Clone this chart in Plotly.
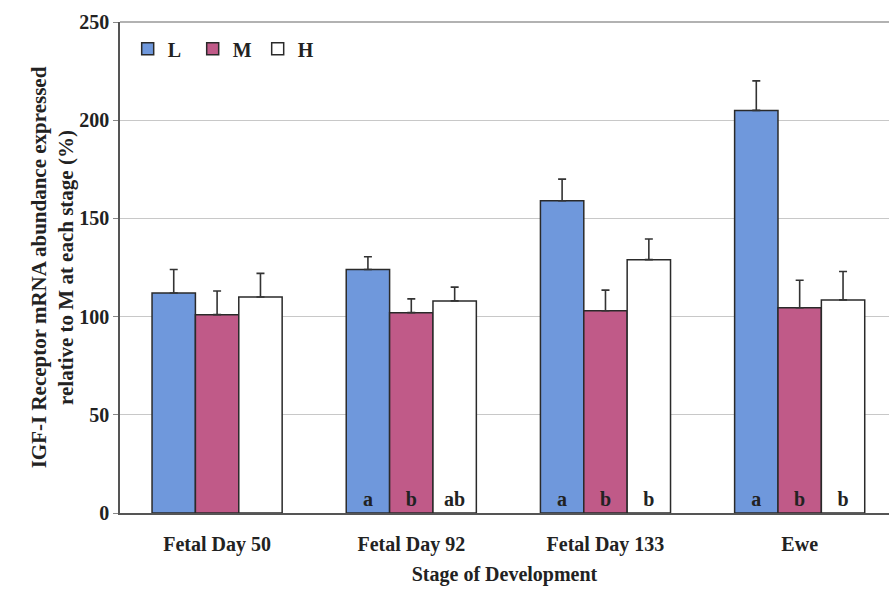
import plotly.graph_objects as go

# Stages and relative IGF-I receptor mRNA abundance (% of M) with SEM
stages = ["Fetal Day 50", "Fetal Day 92", "Fetal Day 133", "Ewe"]
L_vals = [112, 124, 159, 205]
M_vals = [101, 102, 103, 104.5]
H_vals = [110, 108, 129, 108.5]
L_err = [12, 6.5, 11, 15]
M_err = [12, 7, 10.5, 14]
H_err = [12, 7, 10.5, 14.5]

# Significance letters shown at the base of each bar
L_sig = ["", "a", "a", "a"]
M_sig = ["", "b", "b", "b"]
H_sig = ["", "ab", "b", "b"]

FONT = "Liberation Serif"
INK = "#222222"
series = [
    ("L", L_vals, L_err, L_sig, "#6f98dc"),
    ("M", M_vals, M_err, M_sig, "#c05a88"),
    ("H", H_vals, H_err, H_sig, "#ffffff"),
]

fig = go.Figure()
for name, vals, err, sig, color in series:
    fig.add_trace(go.Bar(
        name=f"<b>{name}</b>",
        x=stages,
        y=vals,
        text=[f"<b>{s}</b>" if s else "" for s in sig],
        textposition="inside",
        insidetextanchor="start",
        textangle=0,
        textfont=dict(family=FONT, size=20, color=INK),
        marker=dict(color=color, line=dict(color="#2a2a2a", width=1.5)),
        error_y=dict(type="data", array=err, arrayminus=[0] * len(err),
                     symmetric=False, color="#333333", thickness=1.6, width=4),
    ))

fig.update_layout(
    width=889, height=589,
    margin=dict(l=120, r=0, t=22, b=76),
    paper_bgcolor="white",
    plot_bgcolor="white",
    barmode="group",
    bargap=0.33,
    bargroupgap=0,
    font=dict(family=FONT, color=INK),
    legend=dict(
        orientation="h", x=0.01, y=0.985, xanchor="left", yanchor="top",
        font=dict(family=FONT, size=20, color=INK),
        bgcolor="rgba(0,0,0,0)", itemwidth=30, entrywidth=20,
        traceorder="normal",
    ),
    uniformtext=dict(minsize=10, mode="show"),
)

fig.update_xaxes(
    range=[-0.5, 3.46],
    showline=True, linecolor="#555555", linewidth=1.5,
    showgrid=False, ticks="",
    ticklabelstandoff=12,
    tickfont=dict(family=FONT, size=20, color=INK),
    title=dict(text="<b>Stage of Development</b>",
               font=dict(family=FONT, size=20, color=INK), standoff=12),
    tickprefix="<b>", ticksuffix="</b>",
)
fig.update_yaxes(
    range=[0, 250], dtick=50,
    showline=True, linecolor="#555555", linewidth=1.5,
    showgrid=True, gridcolor="#c8c8c8", gridwidth=1,
    ticks="outside", ticklen=5, tickcolor="#888888",
    tickfont=dict(family=FONT, size=20, color=INK),
    tickprefix="<b>", ticksuffix="</b>",
    title=dict(text="<b>IGF-I Receptor mRNA abundance expressed<br>relative to M at each stage (%)</b>",
               font=dict(family=FONT, size=21, color=INK), standoff=0),
    zeroline=False,
)
# top frame line
fig.add_shape(type="line", xref="paper", yref="paper", x0=0, x1=1, y0=1, y1=1,
              line=dict(color="#999999", width=1.5))

fig.write_html("out.html")
